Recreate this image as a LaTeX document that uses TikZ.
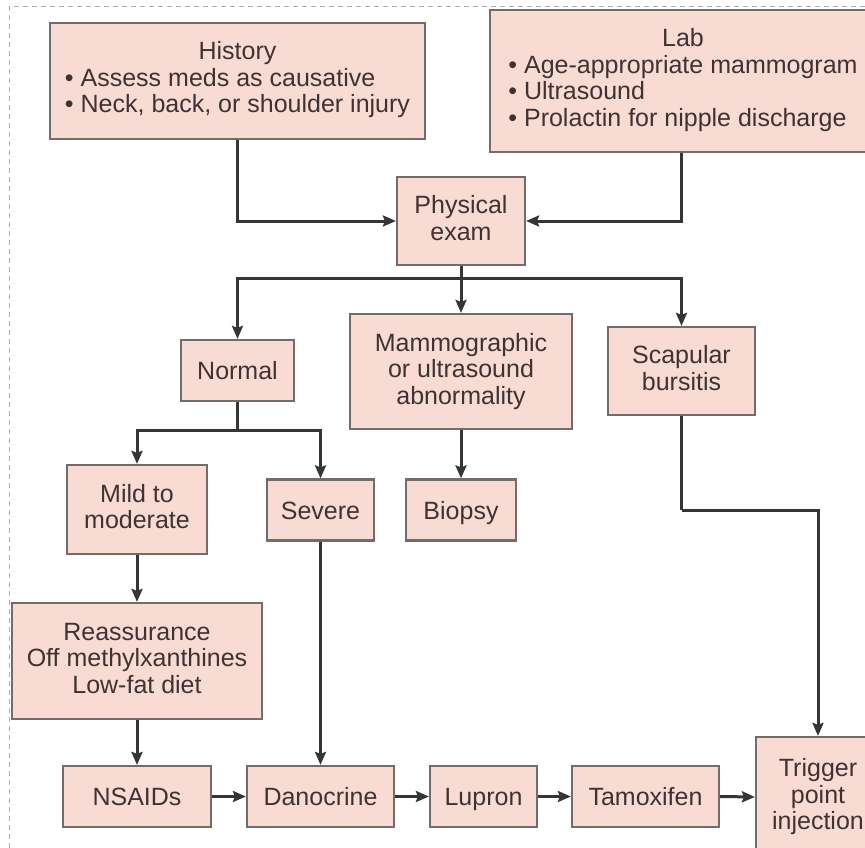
\documentclass[tikz,border=0pt]{standalone}
\usepackage{fontspec}
\setmainfont{Liberation Sans}
\usetikzlibrary{arrows.meta}
\definecolor{boxfill}{HTML}{F8DCD4}
\definecolor{boxline}{HTML}{766A6A}
\definecolor{txt}{HTML}{403232}
\definecolor{arr}{HTML}{353535}
\definecolor{frame}{HTML}{B0B0B0}
\begin{document}
\begin{tikzpicture}[x=1pt,y=-1pt,
  box/.style={draw=boxline, fill=boxfill, line width=2.2pt, text=txt, align=center,
    inner sep=0pt, font=\fontsize{25}{26.5}\selectfont,
    execute at begin node={\rule{0pt}{24pt}}, execute at end node={\rule[-6pt]{0pt}{6pt}}},
  conn/.style={draw=arr, line width=3pt},
  arrow/.style={conn, -{Stealth[length=13pt,width=11pt,inset=2pt]}},
  frameline/.style={draw=frame, line width=1pt, dash pattern=on 5pt off 4pt}]
\useasboundingbox (0,0) rectangle (865,848);
\fill[white] (0,0) rectangle (865,848);
\draw[frameline] (9,848) -- (9,7) -- (865,7);

\node[box, minimum width=375, minimum height=116] (hist) at (237.5,81)
  {\begin{tabular}{@{}l@{}}\multicolumn{1}{@{}c@{}}{History}\\
   • Assess meds as causative\\ • Neck, back, or shoulder injury\end{tabular}};
\node[box, minimum width=386, minimum height=142] (lab) at (683,81)
  {\begin{tabular}{@{}l@{}}\multicolumn{1}{@{}c@{}}{Lab}\\
   • Age-appropriate mammogram\\ • Ultrasound\\ • Prolactin for nipple discharge\end{tabular}};
\node[box, minimum width=128, minimum height=88] (phys) at (461,221) {Physical\\exam};
\node[box, minimum width=113, minimum height=61] (normal) at (237.5,370.5) {Normal};
\node[box, minimum width=222, minimum height=115] (mammo) at (461,371.5) {Mammographic\\or ultrasound\\abnormality};
\node[box, minimum width=147, minimum height=88] (scap) at (681.5,371) {Scapular\\bursitis};
\node[box, minimum width=140, minimum height=89] (mild) at (137,509.5) {Mild to\\moderate};
\node[box, minimum width=107, minimum height=61] (severe) at (320.5,510) {Severe};
\node[box, minimum width=110, minimum height=61] (biopsy) at (461,510) {Biopsy};
\node[box, minimum width=250, minimum height=116] (reass) at (137,661) {Reassurance\\Off methylxanthines\\Low-fat diet};
\node[box, minimum width=148, minimum height=61] (nsaid) at (137,796.5) {NSAIDs};
\node[box, minimum width=147, minimum height=61] (dano) at (320.5,796.5) {Danocrine};
\node[box, minimum width=107, minimum height=61] (lupron) at (483.5,796.5) {Lupron};
\node[box, minimum width=147, minimum height=61] (tamox) at (645.5,796.5) {Tamoxifen};
\node[box, minimum width=124, minimum height=120] (trig) at (818,797) {Trigger\\point\\injection};

\draw[arrow] (hist.south) |- (phys.west);
\draw[arrow] (scap.north |- lab.south) |- (phys.east);

\draw[conn] (phys.south) -- ++(0,12) coordinate (b1);
\draw[arrow] (b1) -| (normal.north);
\draw[arrow] (b1) -| (scap.north);
\draw[arrow] (b1) -- (mammo.north);

\draw[conn] (normal.south) -- ++(0,28) coordinate (b2);
\draw[arrow] (b2) -| (mild.north);
\draw[arrow] (b2) -| (severe.north);

\draw[arrow] (mammo.south) -- (biopsy.north);
\draw[conn] (scap.south) -- ++(0,94) coordinate (b3);
\draw[arrow] (b3) -| (trig.north);

\draw[arrow] (mild.south) -- (reass.north);
\draw[arrow] (reass.south) -- (nsaid.north);
\draw[arrow] (severe.south) -- (dano.north);

\draw[arrow] (nsaid.east) -- (dano.west);
\draw[arrow] (dano.east) -- (lupron.west);
\draw[arrow] (lupron.east) -- (tamox.west);
\draw[arrow] (tamox.east) -- (trig.west);
\end{tikzpicture}
\end{document}
